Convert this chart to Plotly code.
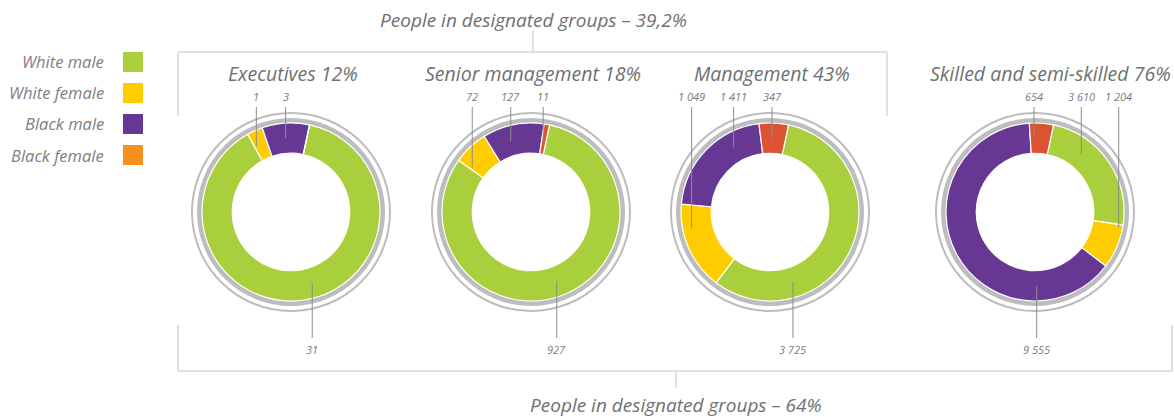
import math
import plotly.graph_objects as go

# ---------------- data ----------------
categories = ["White male", "White female", "Black male", "Black female"]
groups = ["Executives", "Senior management", "Management", "Skilled and semi-skilled"]
group_pct = ["12%", "18%", "43%", "76%"]
executives = [31, 1, 3, 0]
senior_management = [927, 72, 127, 11]
management = [3725, 1049, 1411, 347]
skilled = [3610, 1204, 9555, 654]
series = [executives, senior_management, management, skilled]
top_bracket_label = "People in designated groups – 39,2%"
bottom_bracket_label = "People in designated groups – 64%"

# ---------------- styles / layout constants ----------------
W, H = 1174, 417
slice_colors = ["#A9CF3D", "#FFCC00", "#663894", "#DC5233"]
legend_colors = ["#A9CF3D", "#FFCC00", "#663894", "#F7901E"]
FONT = "Open Sans"
TXT = "#707070"
LEADER = "#8c8c8c"
BRACKET = "#d8d8cc"
RING = "#bdbdc0"

centers_x = [291, 531, 770, 1035]
CY = 212
R = 89
HOLE = 0.66
R_MID = R * (1 + HOLE) / 2
START_ROT = 12
# leader-line angle per slice (deg clockwise from top); None = no label
label_angles = [
    [163.3, 332, 355.8, None],
    [159.6, 307.3, 344.1, 9.5],
    [161.9, 258, 330.5, 1.6],
    [38.8, 100, 178.7, 359.2],
]
# radius of leader-line end (fraction of outer radius)
label_rfrac = [
    [None, None, None, None],
    [None, None, None, None],
    [None, 0.9, None, None],
    [None, 0.955, None, None],
]
bottom_idx = [0, 0, 0, 2]   # the slice whose label sits below the donut
TOP_LABEL_Y, TOP_LINE_Y = 96, 107
BOT_LABEL_Y, BOT_LINE_Y = 349, 338
TITLE_Y = 73


def px(x):
    return x / W


def py(y):
    return 1 - y / H


def fmt(v):
    return f"{v:,}".replace(",", " ")


fig = go.Figure()
shapes = []
annotations = []

for gi, (vals, cx) in enumerate(zip(series, centers_x)):
    fig.add_trace(go.Pie(
        values=vals,
        labels=categories,
        sort=False,
        direction="clockwise",
        rotation=START_ROT,
        hole=HOLE,
        textinfo="none",
        hoverinfo="label+value",
        marker=dict(colors=slice_colors, line=dict(color="white", width=1.2)),
        domain=dict(x=[px(cx - R), px(cx + R)], y=[py(CY + R), py(CY - R)]),
        showlegend=False,
    ))
    # grey decorative rings
    for rad, lw in [(R + 2.5, 5), (R + 10, 2)]:
        shapes.append(dict(type="circle", xref="paper", yref="paper",
                           xsizemode="pixel", ysizemode="pixel",
                           xanchor=px(cx), yanchor=py(CY),
                           x0=-rad, x1=rad, y0=-rad, y1=rad,
                           line=dict(color=RING, width=lw), layer="below"))
    # title
    annotations.append(dict(x=px(cx + (15 if gi == 3 else 2)), y=py(TITLE_Y),
                            xref="paper", yref="paper", showarrow=False,
                            text=f"<i>{groups[gi]} {group_pct[gi]}</i>",
                            font=dict(family=FONT, size=19.5, color=TXT),
                            xanchor="center", yanchor="middle"))
    # value labels with leader lines
    for si, v in enumerate(vals):
        ang = label_angles[gi][si]
        if v == 0 or ang is None:
            continue
        a = math.radians(ang)
        rf = label_rfrac[gi][si]
        rr = R_MID if rf is None else R * rf
        lx = cx + rr * math.sin(a)
        ly = CY - rr * math.cos(a)
        if si == bottom_idx[gi]:
            y_lab, y_line = BOT_LABEL_Y, BOT_LINE_Y
        else:
            y_lab, y_line = TOP_LABEL_Y, TOP_LINE_Y
        shapes.append(dict(type="line", xref="paper", yref="paper",
                           x0=px(lx), x1=px(lx), y0=py(ly), y1=py(y_line),
                           line=dict(color=LEADER, width=1)))
        annotations.append(dict(x=px(lx), y=py(y_lab), xref="paper", yref="paper",
                                showarrow=False, text=f"<i>{fmt(v)}</i>",
                                font=dict(family=FONT, size=11, color="#7a7a7a"),
                                xanchor="center", yanchor="middle"))

# legend (text left of square)
leg_y = [62, 93, 124, 155]
for name, col, y in zip(categories, legend_colors, leg_y):
    shapes.append(dict(type="rect", xref="paper", yref="paper",
                       x0=px(123), x1=px(143), y0=py(y - 10), y1=py(y + 10),
                       fillcolor=col, line=dict(width=0)))
    annotations.append(dict(x=px(106), y=py(y), xref="paper", yref="paper",
                            showarrow=False, text=f"<i>{name}</i>",
                            font=dict(family=FONT, size=16.5, color="#808080"),
                            xanchor="right", yanchor="middle"))


# brackets
def seg(x0, y0, x1, y1):
    shapes.append(dict(type="line", xref="paper", yref="paper",
                       x0=px(x0), x1=px(x1), y0=py(y0), y1=py(y1),
                       line=dict(color=BRACKET, width=1.5)))


seg(178, 52, 887, 52)
seg(178, 52, 178, 116)
seg(887, 52, 887, 116)
seg(533, 30, 533, 52)
seg(178, 371, 1172, 371)
seg(178, 325, 178, 371)
seg(1172, 325, 1172, 371)
seg(676, 371, 676, 388)

annotations.append(dict(x=px(533), y=py(20), xref="paper", yref="paper", showarrow=False,
                        text=f"<i>{top_bracket_label}</i>",
                        font=dict(family=FONT, size=19, color=TXT),
                        xanchor="center", yanchor="middle"))
annotations.append(dict(x=px(676), y=py(405), xref="paper", yref="paper", showarrow=False,
                        text=f"<i>{bottom_bracket_label}</i>",
                        font=dict(family=FONT, size=19, color=TXT),
                        xanchor="center", yanchor="middle"))

fig.update_layout(width=W, height=H, margin=dict(l=0, r=0, t=0, b=0),
                  paper_bgcolor="white", plot_bgcolor="white",
                  shapes=shapes, annotations=annotations, showlegend=False)
fig.write_html("out.html", config={"displayModeBar": False},
               post_script="document.body.style.margin='0px';document.body.style.overflow='hidden';")
